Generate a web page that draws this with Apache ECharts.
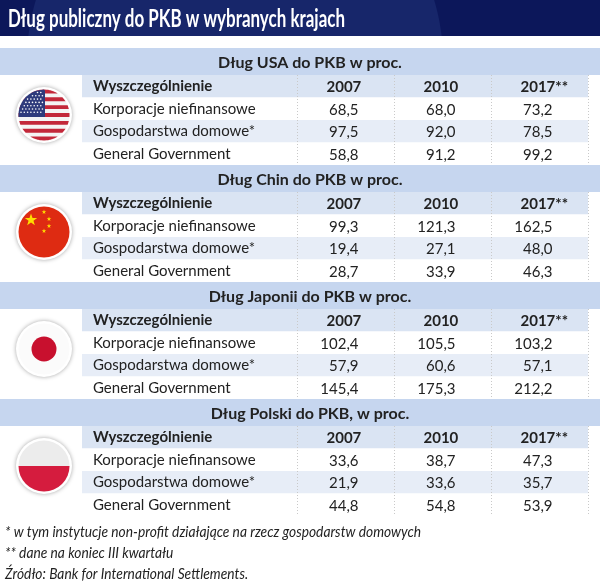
<!DOCTYPE html>
<html>
<head>
<meta charset="utf-8">
<script src="https://cdn.jsdelivr.net/npm/echarts@6/dist/echarts.min.js"></script>
<style>
html, body { margin: 0; padding: 0; background: #fff; }
#chart { width: 600px; height: 584px; }
</style>
</head>
<body>
<div id="chart"></div>
<script>
var chartTitle = 'Dług publiczny do PKB w wybranych krajach';
var sectionTitles = ['Dług USA do PKB w proc.', 'Dług Chin do PKB w proc.', 'Dług Japonii do PKB w proc.', 'Dług Polski do PKB, w proc.'];
var flags = ['usa', 'china', 'japan', 'poland'];
var headerLabel = 'Wyszczególnienie';
var rowLabels = ['Korporacje niefinansowe', 'Gospodarstwa domowe*', 'General Government'];
var years = ['2007', '2010', '2017**'];
var usaValues = [[68.5, 68.0, 73.2], [97.5, 92.0, 78.5], [58.8, 91.2, 99.2]];
var chinaValues = [[99.3, 121.3, 162.5], [19.4, 27.1, 48.0], [28.7, 33.9, 46.3]];
var japanValues = [[102.4, 105.5, 103.2], [57.9, 60.6, 57.1], [145.4, 175.3, 212.2]];
var polandValues = [[33.6, 38.7, 47.3], [21.9, 33.6, 35.7], [44.8, 54.8, 53.9]];
var footnotes = [
    '* w tym instytucje non-profit działające na rzecz gospodarstw domowych',
    '** dane na koniec III kwartału',
    'Źródło: Bank for International Settlements.'
];

var sectionValues = [usaValues, chinaValues, japanValues, polandValues];
var rowCats = [headerLabel].concat(rowLabels);

var FONT = 'Lato, "Open Sans", sans-serif';
var TEXT = '#222222';
var SEC_TOP = 48, SEC_STEP = 117, BAND_H = 27, TABLE_H = 90;
var bandColors = ['#dae4f3', '#ffffff', '#e7edf7', '#ffffff'];

var chart = echarts.init(document.getElementById('chart'));

// measure text so condensed lines can be squeezed to the reference width
var measureCtx = document.createElement('canvas').getContext('2d');
function textWidth(text, font) {
    measureCtx.font = font;
    return measureCtx.measureText(text).width;
}

// polygon of a rectangle cut by a circle (used for flag stripes)
function clipRect(cx, cy, r, x1, y1, x2, y2) {
    var left = [], right = [];
    for (var k = 0; k <= 24; k++) {
        var y = y1 + (y2 - y1) * k / 24;
        var dy = y - cy;
        if (Math.abs(dy) > r) continue;
        var w = Math.sqrt(r * r - dy * dy);
        var a = Math.max(x1, cx - w), b = Math.min(x2, cx + w);
        if (a > b) continue;
        left.push([a, y]);
        right.push([b, y]);
    }
    return left.concat(right.reverse());
}

function starPoints(cx, cy, R) {
    var pts = [];
    for (var k = 0; k < 10; k++) {
        var rr = k % 2 === 0 ? R : R * 0.4;
        var ang = -Math.PI / 2 + k * Math.PI / 5;
        pts.push([cx + rr * Math.cos(ang), cy + rr * Math.sin(ang)]);
    }
    return pts;
}

function flagElements(kind, cx, cy) {
    var r = 25.5;
    var els = [{
        type: 'circle', shape: { cx: cx, cy: cy, r: r + 2.5 },
        style: { fill: '#ffffff', shadowBlur: 4, shadowColor: 'rgba(0,0,0,0.35)' }
    }];
    if (kind === 'usa') {
        els.push({ type: 'circle', shape: { cx: cx, cy: cy, r: r }, style: { fill: '#f4f4f4' } });
        var sh = 2 * r / 13;
        for (var s = 0; s < 13; s += 2) {
            els.push({ type: 'polygon', shape: { points: clipRect(cx, cy, r, cx - r, cy - r + s * sh, cx + r, cy - r + (s + 1) * sh) }, style: { fill: '#c3283a' } });
        }
        els.push({ type: 'polygon', shape: { points: clipRect(cx, cy, r, cx - r, cy - r, cx + 1, cy - r + 7 * sh) }, style: { fill: '#2f3b7c' } });
        for (var i = 0; i < 7; i++) {
            for (var j = 0; j < 8; j++) {
                var sx = cx - r + 2.5 + j * 3.3 + (i % 2) * 1.6, sy = cy - r + 3 + i * 3.3;
                var ddx = sx - cx, ddy = sy - cy;
                if (sx > cx - 1 || ddx * ddx + ddy * ddy > (r - 2) * (r - 2)) continue;
                els.push({ type: 'circle', shape: { cx: sx, cy: sy, r: 0.8 }, style: { fill: '#ffffff' } });
            }
        }
    } else if (kind === 'china') {
        els.push({ type: 'circle', shape: { cx: cx, cy: cy, r: r }, style: { fill: '#de2b12' } });
        els.push({ type: 'polygon', shape: { points: starPoints(cx - 13, cy - 12, 6.5) }, style: { fill: '#ffdd00' } });
        [[0, -20], [5, -13], [5, -6], [0, -1]].forEach(function (o) {
            els.push({ type: 'polygon', shape: { points: starPoints(cx + o[0], cy + o[1], 2.4) }, style: { fill: '#ffdd00' } });
        });
    } else if (kind === 'japan') {
        els.push({ type: 'circle', shape: { cx: cx, cy: cy, r: r }, style: { fill: '#fbfbfb' } });
        els.push({ type: 'circle', shape: { cx: cx, cy: cy, r: 12.5 }, style: { fill: '#c8102e' } });
    } else {
        els.push({ type: 'circle', shape: { cx: cx, cy: cy, r: r }, style: { fill: '#ececec' } });
        els.push({ type: 'sector', shape: { cx: cx, cy: cy, r: r, startAngle: 0, endAngle: Math.PI, clockwise: true }, style: { fill: '#d51c3e' } });
    }
    return els;
}

function fmt(v) {
    return v.toFixed(1).replace('.', ',');
}

var grids = [], xAxes = [], yAxes = [], series = [];
var graphics = [];

// title bar
graphics.push({ type: 'rect', shape: { x: 0, y: 0, width: 600, height: 36 }, style: { fill: '#0c175a' } });
graphics.push({ type: 'polygon', shape: { points: clipRect(235, 60, 208, 0, 0, 600, 36) }, style: { fill: '#17266a' } });
var titleFont = 'bold 25px ' + FONT;
graphics.push({
    type: 'text', x: 8, y: 19, scaleX: 337 / textWidth(chartTitle, titleFont),
    style: { text: chartTitle, font: titleFont, fill: '#ffffff', verticalAlign: 'middle' }
});

sectionTitles.forEach(function (title, i) {
    var top = SEC_TOP + i * SEC_STEP;
    graphics.push({ type: 'rect', shape: { x: 0, y: top, width: 600, height: BAND_H }, style: { fill: '#c6d6ef' } });
    graphics.push({
        type: 'text', x: 310, y: top + BAND_H / 2 + 1,
        style: { text: title, font: 'bold 16px ' + FONT, fill: TEXT, align: 'center', verticalAlign: 'middle' }
    });
    flagElements(flags[i], 44, top + 67).forEach(function (el) { graphics.push(el); });

    var gTop = top + BAND_H;
    // label column
    grids.push({ left: 82, width: 215, top: gTop, height: TABLE_H });
    xAxes.push({ type: 'category', gridIndex: 2 * i, data: [''], show: false });
    yAxes.push({
        type: 'category', gridIndex: 2 * i, data: rowCats, inverse: true,
        axisLine: { show: false }, axisTick: { show: false }, splitLine: { show: false },
        splitArea: { show: true, areaStyle: { color: bandColors } },
        axisLabel: {
            inside: true, margin: 11, interval: 0, color: TEXT, fontSize: 15, fontFamily: FONT,
            formatter: function (v, idx) { return idx === 0 ? '{h|' + v + '}' : v; },
            rich: { h: { fontWeight: 'bold', fontSize: 15, fontFamily: FONT, color: TEXT } }
        }
    });
    // value columns
    grids.push({ left: 297, width: 291, top: gTop, height: TABLE_H });
    xAxes.push({
        type: 'category', gridIndex: 2 * i + 1, data: years,
        axisLine: { show: false }, axisTick: { show: false }, axisLabel: { show: false },
        splitLine: { show: true, interval: 0, lineStyle: { color: '#c9c9c9', type: [1, 2], width: 1 } }
    });
    yAxes.push({
        type: 'category', gridIndex: 2 * i + 1, data: rowCats, inverse: true,
        axisLine: { show: false }, axisTick: { show: false }, axisLabel: { show: false },
        splitLine: { show: false },
        splitArea: { show: true, areaStyle: { color: bandColors } }
    });

    var data = [];
    for (var r = 0; r < rowCats.length; r++) {
        for (var c = 0; c < years.length; c++) {
            data.push([c, r, r === 0 ? 0 : sectionValues[i][r - 1][c]]);
        }
    }
    series.push({
        type: 'custom', xAxisIndex: 2 * i + 1, yAxisIndex: 2 * i + 1, silent: true,
        data: data,
        renderItem: function (params, api) {
            var c = api.value(0), r = api.value(1);
            var pt = api.coord([c, r]);
            if (r === 0) {
                return { type: 'text', style: { x: pt[0] - 19, y: pt[1] + 1, text: years[c], font: 'bold 15px ' + FONT, fill: TEXT, align: 'left', verticalAlign: 'middle' } };
            }
            return { type: 'text', style: { x: pt[0] + 13, y: pt[1] + 1, text: fmt(api.value(2)), font: '15px ' + FONT, fill: TEXT, align: 'right', verticalAlign: 'middle' } };
        }
    });
});

// footnotes, condensed like the original
var noteFont = 'italic 15.5px ' + FONT;
var noteScale = 416 / textWidth(footnotes[0], noteFont);
footnotes.forEach(function (t, k) {
    graphics.push({
        type: 'text', x: 5, y: 532 + k * 21, scaleX: noteScale,
        style: { text: t, font: noteFont, fill: TEXT, verticalAlign: 'middle' }
    });
});

var option = {
    backgroundColor: '#ffffff',
    animation: false,
    grid: grids,
    xAxis: xAxes,
    yAxis: yAxes,
    series: series,
    graphic: { elements: graphics }
};

chart.setOption(option);

window.addEventListener('resize', function () {
    chart.resize();
});
</script>
</body>
</html>
